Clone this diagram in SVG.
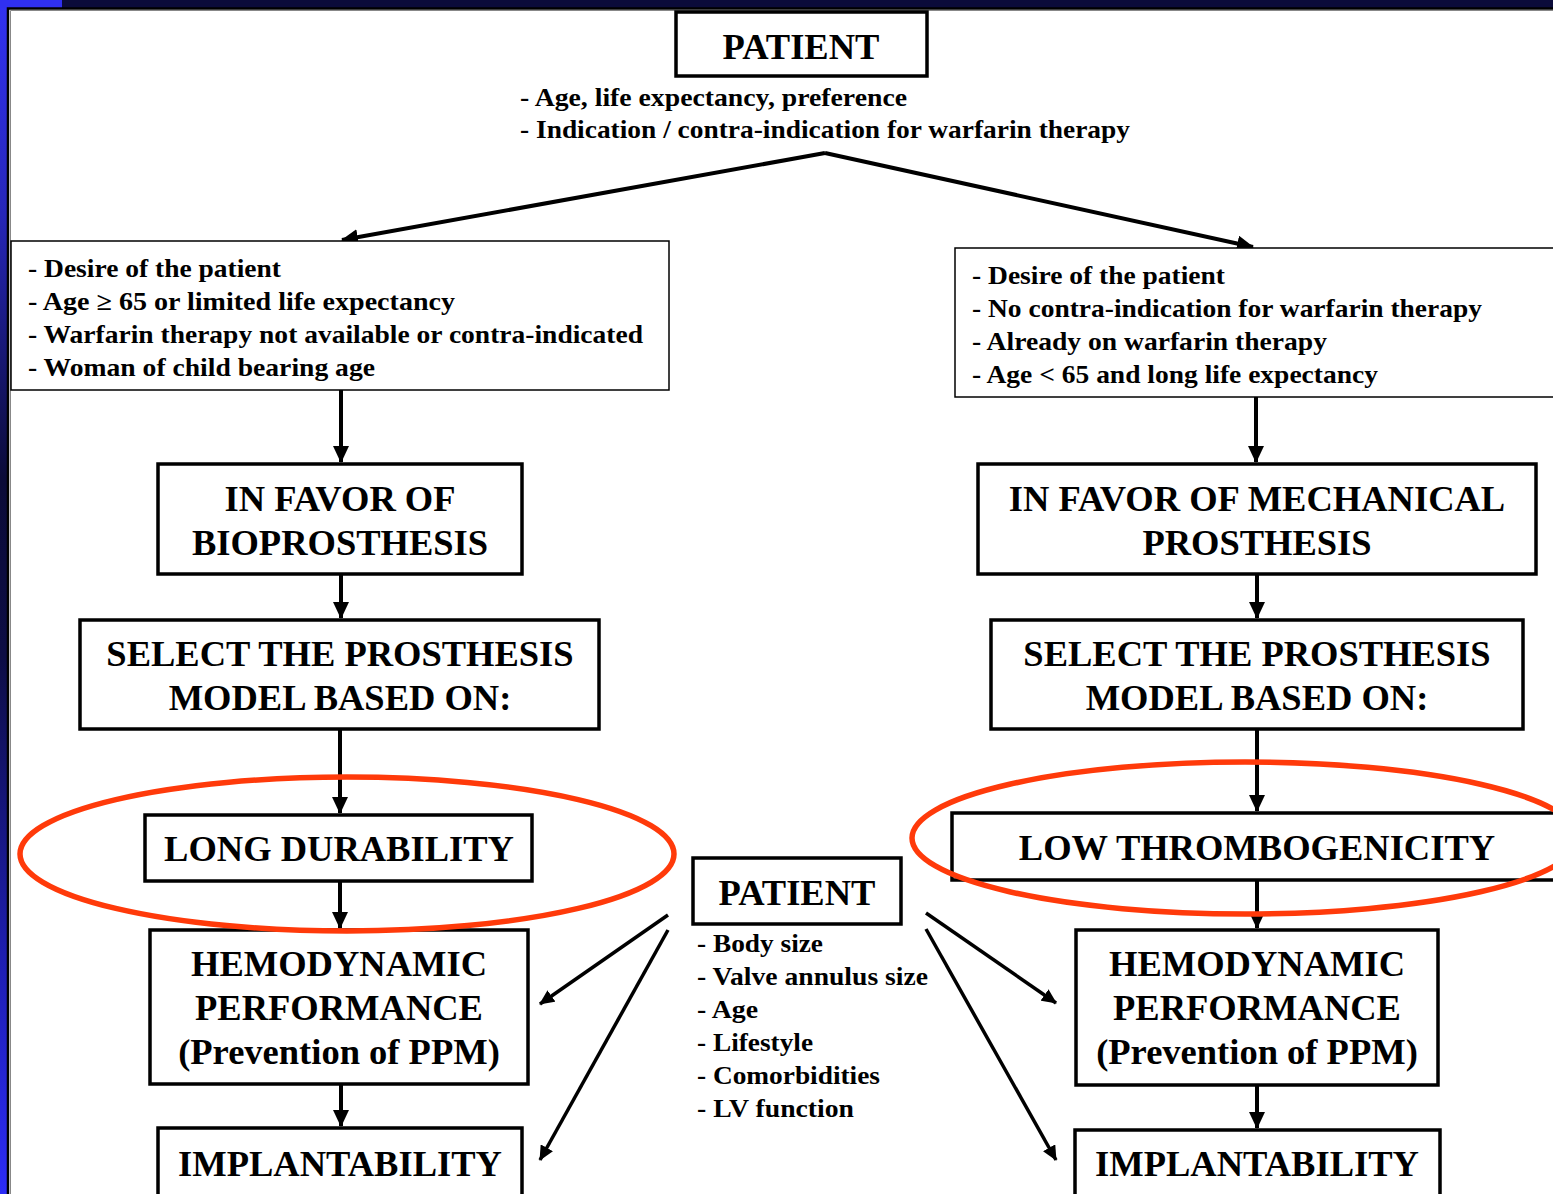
<svg xmlns="http://www.w3.org/2000/svg" width="1553" height="1194" viewBox="0 0 1553 1194">
<defs>
<linearGradient id="leftbar" x1="0" y1="0" x2="0" y2="1">
<stop offset="0" stop-color="#3232f2"/>
<stop offset="0.18" stop-color="#2626b8"/>
<stop offset="0.4" stop-color="#0b0b38"/>
<stop offset="0.55" stop-color="#0d0d45"/>
<stop offset="0.8" stop-color="#1e1eb0"/>
<stop offset="1" stop-color="#2c2cf6"/>
</linearGradient>
<marker id="ah" markerUnits="userSpaceOnUse" markerWidth="18" markerHeight="16" refX="16" refY="8" orient="auto">
<path d="M0,0 L17,8 L0,16 Z" fill="#000"/>
</marker>
<marker id="ahs" markerUnits="userSpaceOnUse" markerWidth="16" markerHeight="14" refX="14" refY="7" orient="auto">
<path d="M0,0 L15,7 L0,14 Z" fill="#000"/>
</marker>
<style>
.big{font-family:"Liberation Serif","Times New Roman",serif;font-weight:bold;font-size:36.5px;fill:#000;text-anchor:middle}
.sm{font-family:"Liberation Serif","Times New Roman",serif;font-weight:bold;font-size:25px;fill:#000}
.box{fill:#fff;stroke:#000;stroke-width:3.5}
.thin{fill:#fff;stroke:#000;stroke-width:1.5}
.con{fill:none;stroke:#000;stroke-width:4}
.con2{fill:none;stroke:#000;stroke-width:3.5}
.ring{fill:none;stroke:#ff3a0a;stroke-width:5.5}
</style>
</defs>
<rect x="0" y="0" width="1553" height="1194" fill="#fff"/>
<rect x="0" y="0" width="1553" height="8" fill="#0b0b3a"/>
<rect x="0" y="0" width="8" height="1194" fill="url(#leftbar)"/>
<rect x="0" y="0" width="62" height="8" fill="#3030f0"/>
<path d="M8,1194 L8,8.5 L1553,8.5" fill="none" stroke="#000" stroke-width="2.5"/>
<path d="M10.5,1194 L10.5,10.5 L1553,10.5" fill="none" stroke="#888" stroke-width="1"/>

<g id="connectors">
<path class="con" d="M825,153 L342,240" marker-end="url(#ah)"/>
<path class="con" d="M825,153 L1253,247" marker-end="url(#ah)"/>
<path class="con" d="M341,390 L341,462" marker-end="url(#ah)"/>
<path class="con" d="M341,574 L341,618" marker-end="url(#ah)"/>
<path class="con" d="M340,729 L340,813" marker-end="url(#ah)"/>
<path class="con" d="M340,881 L340,928" marker-end="url(#ah)"/>
<path class="con" d="M341,1084 L341,1126" marker-end="url(#ah)"/>
<path class="con" d="M1256,397 L1256,462" marker-end="url(#ah)"/>
<path class="con" d="M1257,574 L1257,618" marker-end="url(#ah)"/>
<path class="con" d="M1257,729 L1257,811" marker-end="url(#ah)"/>
<path class="con" d="M1257,880 L1257,928" marker-end="url(#ah)"/>
<path class="con" d="M1257,1085 L1257,1128" marker-end="url(#ah)"/>
<path class="con2" d="M668,915 L540,1004" marker-end="url(#ahs)"/>
<path class="con2" d="M668,930 L540,1160" marker-end="url(#ahs)"/>
<path class="con2" d="M926,913 L1056,1003" marker-end="url(#ahs)"/>
<path class="con2" d="M926,929 L1056,1160" marker-end="url(#ahs)"/>
</g>

<g id="patient-top">
<rect class="box" x="676" y="12" width="251" height="64"/>
<text class="big" x="801" y="59">PATIENT</text>
<text class="sm" x="520" y="106" textLength="387" lengthAdjust="spacingAndGlyphs">- Age, life expectancy, preference</text>
<text class="sm" x="520" y="138" textLength="610" lengthAdjust="spacingAndGlyphs">- Indication / contra-indication for warfarin therapy</text>
</g>

<g id="criteria-bio">
<rect class="thin" x="11" y="241" width="658" height="149"/>
<text class="sm" x="28" y="277" textLength="253" lengthAdjust="spacingAndGlyphs">- Desire of the patient</text>
<text class="sm" x="28" y="310" textLength="427" lengthAdjust="spacingAndGlyphs">- Age ≥ 65  or limited life expectancy</text>
<text class="sm" x="28" y="343" textLength="615" lengthAdjust="spacingAndGlyphs">- Warfarin therapy not available or contra-indicated</text>
<text class="sm" x="28" y="376" textLength="347" lengthAdjust="spacingAndGlyphs">- Woman of child bearing age</text>
</g>

<g id="criteria-mech">
<rect class="thin" x="955" y="248" width="610" height="149"/>
<text class="sm" x="972" y="284" textLength="253" lengthAdjust="spacingAndGlyphs">- Desire of the patient</text>
<text class="sm" x="972" y="317" textLength="510" lengthAdjust="spacingAndGlyphs">- No contra-indication for warfarin therapy</text>
<text class="sm" x="972" y="350" textLength="355" lengthAdjust="spacingAndGlyphs">- Already on warfarin therapy</text>
<text class="sm" x="972" y="383" textLength="406" lengthAdjust="spacingAndGlyphs">- Age &lt; 65 and long life expectancy</text>
</g>

<g id="favor-bio">
<rect class="box" x="158" y="464" width="364" height="110"/>
<text class="big" x="340" y="511">IN FAVOR OF</text>
<text class="big" x="340" y="555">BIOPROSTHESIS</text>
</g>

<g id="favor-mech">
<rect class="box" x="978" y="464" width="558" height="110"/>
<text class="big" x="1257" y="511">IN FAVOR OF MECHANICAL</text>
<text class="big" x="1257" y="555">PROSTHESIS</text>
</g>

<g id="select-bio">
<rect class="box" x="80" y="620" width="519" height="109"/>
<text class="big" x="340" y="666">SELECT THE PROSTHESIS</text>
<text class="big" x="340" y="710">MODEL BASED ON:</text>
</g>

<g id="select-mech">
<rect class="box" x="991" y="620" width="532" height="109"/>
<text class="big" x="1257" y="666">SELECT THE PROSTHESIS</text>
<text class="big" x="1257" y="710">MODEL BASED ON:</text>
</g>

<g id="durability">
<rect class="box" x="145" y="815" width="387" height="66"/>
<text class="big" x="339" y="861">LONG DURABILITY</text>
</g>

<g id="thrombo">
<rect class="box" x="952" y="813" width="620" height="67"/>
<text class="big" x="1257" y="860">LOW THROMBOGENICITY</text>
</g>

<g id="hemo-bio">
<rect class="box" x="150" y="930" width="378" height="154"/>
<text class="big" x="339" y="976">HEMODYNAMIC</text>
<text class="big" x="339" y="1020">PERFORMANCE</text>
<text class="big" x="339" y="1064">(Prevention of PPM)</text>
</g>

<g id="hemo-mech">
<rect class="box" x="1076" y="930" width="362" height="155"/>
<text class="big" x="1257" y="976">HEMODYNAMIC</text>
<text class="big" x="1257" y="1020">PERFORMANCE</text>
<text class="big" x="1257" y="1064">(Prevention of PPM)</text>
</g>

<g id="implant-bio">
<rect class="box" x="158" y="1128" width="364" height="80"/>
<text class="big" x="340" y="1176">IMPLANTABILITY</text>
</g>

<g id="implant-mech">
<rect class="box" x="1075" y="1130" width="365" height="80"/>
<text class="big" x="1257" y="1176">IMPLANTABILITY</text>
</g>

<g id="patient-mid">
<rect class="box" x="693" y="858" width="208" height="66"/>
<text class="big" x="797" y="905">PATIENT</text>
<text class="sm" x="697" y="952" textLength="126" lengthAdjust="spacingAndGlyphs">- Body size</text>
<text class="sm" x="697" y="985" textLength="231" lengthAdjust="spacingAndGlyphs">- Valve annulus size</text>
<text class="sm" x="697" y="1018" textLength="61" lengthAdjust="spacingAndGlyphs">- Age</text>
<text class="sm" x="697" y="1051" textLength="116" lengthAdjust="spacingAndGlyphs">- Lifestyle</text>
<text class="sm" x="697" y="1084" textLength="183" lengthAdjust="spacingAndGlyphs">- Comorbidities</text>
<text class="sm" x="697" y="1117" textLength="157" lengthAdjust="spacingAndGlyphs">- LV function</text>
</g>

<g id="highlights">
<ellipse class="ring" cx="347" cy="854" rx="327" ry="77"/>
<ellipse class="ring" cx="1245" cy="838" rx="333" ry="76"/>
</g>
</svg>
